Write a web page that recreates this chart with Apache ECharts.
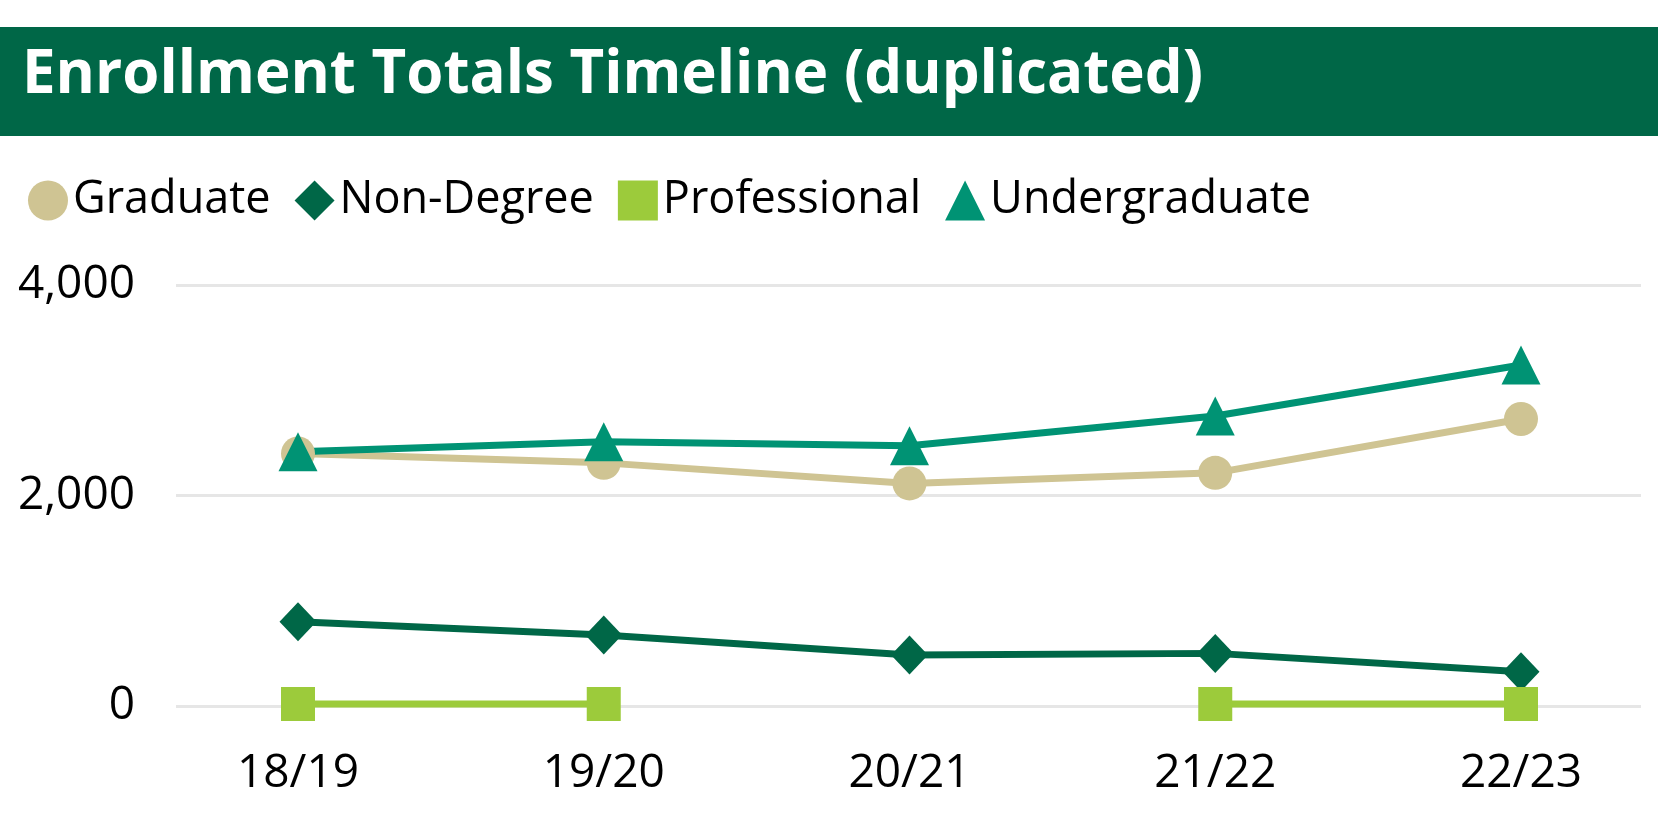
<!DOCTYPE html>
<html>
<head>
<meta charset="utf-8">
<script src="https://cdn.jsdelivr.net/npm/echarts@6/dist/echarts.min.js"></script>
<style>
  html, body { margin: 0; padding: 0; background: #ffffff; }
  #chart { width: 1658px; height: 826px; }
</style>
</head>
<body>
<div id="chart"></div>
<script>
// data
const years = ['18/19', '19/20', '20/21', '21/22', '22/23']
const graduate = [2400, 2310, 2115, 2215, 2727]
const nonDegree = [800, 675, 485, 500, 326]
const professional = [20, 20, null, 20, 20]
const undergraduate = [2416, 2511, 2473, 2755, 3240]
const yTicks = { min: 0, max: 4000, interval: 2000 }

const fontName = '"Open Sans", "Noto Sans", sans-serif'
const green = '#006747'

let myChart = echarts.init(document.getElementById('chart'))

function makeLine (name, data, color, symbol, size) {
  return {
    name: name,
    type: 'line',
    xAxisIndex: 1,
    yAxisIndex: 1,
    data: data,
    symbol: symbol,
    symbolSize: size,
    connectNulls: false,
    lineStyle: { color: color, width: 7 },
    itemStyle: { color: color },
    emphasis: { disabled: true }
  }
}

let option = {
  animation: false,
  graphic: [
    {
      type: 'rect',
      z: -1,
      shape: { x: 0, y: 27, width: 1658, height: 109 },
      style: { fill: green }
    }
  ],
  title: {
    text: 'Enrollment Totals Timeline (duplicated)',
    left: 17,
    top: 41,
    textStyle: {
      color: '#ffffff',
      fontFamily: fontName,
      fontWeight: 'bold',
      fontSize: 60
    }
  },
  legend: {
    left: 23,
    top: 173,
    itemWidth: 40,
    itemHeight: 40,
    itemGap: 24,
    textStyle: { fontFamily: fontName, fontSize: 45, color: '#000000' },
    data: [
      { name: 'Graduate', icon: 'circle' },
      { name: 'Non-Degree', icon: 'diamond' },
      { name: 'Professional', icon: 'rect' },
      { name: 'Undergraduate', icon: 'triangle' }
    ]
  },
  grid: [
    // wide grid only for the gridlines and y labels
    { left: 176, right: 17, top: 285, bottom: 120 },
    // inner grid where the points sit
    { left: 298, right: 137, top: 285, bottom: 120 }
  ],
  xAxis: [
    { type: 'category', gridIndex: 0, data: years, show: false },
    {
      type: 'category',
      gridIndex: 1,
      data: years,
      boundaryGap: false,
      axisLine: { show: false },
      axisTick: { show: false },
      axisLabel: {
        margin: 45,
        fontFamily: fontName,
        fontSize: 46,
        color: '#000000'
      }
    }
  ],
  yAxis: [
    {
      type: 'value',
      gridIndex: 0,
      min: yTicks.min,
      max: yTicks.max,
      interval: yTicks.interval,
      axisLine: { show: false },
      axisTick: { show: false },
      splitLine: { lineStyle: { color: '#e6e6e6', width: 3 } },
      axisLabel: {
        margin: 41,
        fontFamily: fontName,
        fontSize: 46,
        color: '#000000',
        formatter: function (v) { return v.toLocaleString('en-US') }
      }
    },
    {
      type: 'value',
      gridIndex: 1,
      min: yTicks.min,
      max: yTicks.max,
      interval: yTicks.interval,
      show: false,
      splitLine: { show: false }
    }
  ],
  series: [
    makeLine('Graduate', graduate, '#cfc493', 'circle', 34),
    makeLine('Non-Degree', nonDegree, '#006747', 'diamond', [37, 39]),
    makeLine('Professional', professional, '#9ccb3b', 'rect', 34),
    makeLine('Undergraduate', undergraduate, '#009374', 'triangle', 39)
  ]
}
myChart.setOption(option)
</script>
</body>
</html>
